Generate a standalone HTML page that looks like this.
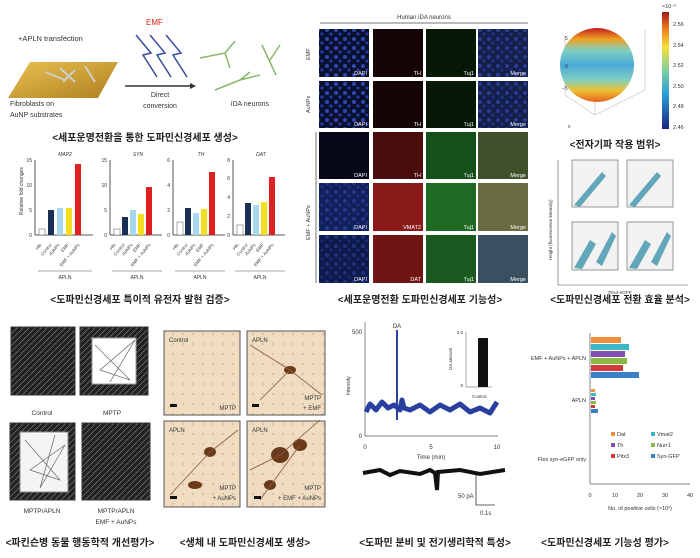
<!DOCTYPE html>
<html><head><meta charset="utf-8"><style>
body{margin:0;background:#fff;width:700px;height:558px;overflow:hidden}
svg{display:block}
text{font-family:"Liberation Sans","Noto Sans CJK KR",sans-serif}
.k{font-family:"Liberation Sans","Noto Sans CJK KR",sans-serif;font-size:10px;font-weight:bold;fill:#222}
</style></head><body>
<svg width="700" height="558" viewBox="0 0 700 558">
<defs>
<linearGradient id="sph" x1="0" y1="0" x2="0" y2="1"><stop offset="0" stop-color="#c02020"/><stop offset="0.15" stop-color="#f0a020"/><stop offset="0.3" stop-color="#7fd0c0"/><stop offset="0.5" stop-color="#4aa8d8"/><stop offset="0.7" stop-color="#7fd0c0"/><stop offset="0.85" stop-color="#f0c030"/><stop offset="1" stop-color="#e06020"/></linearGradient>
<linearGradient id="cb" x1="0" y1="1" x2="0" y2="0"><stop offset="0" stop-color="#1a237e"/><stop offset="0.3" stop-color="#2aa0d8"/><stop offset="0.5" stop-color="#7fd0a0"/><stop offset="0.7" stop-color="#f5e03a"/><stop offset="0.85" stop-color="#f08020"/><stop offset="1" stop-color="#a01818"/></linearGradient>
<linearGradient id="gold" x1="0" y1="0" x2="1" y2="1"><stop offset="0" stop-color="#e8c050"/><stop offset="1" stop-color="#b08020"/></linearGradient>
<pattern id="blk" width="6" height="6" patternUnits="userSpaceOnUse"><rect width="6" height="6" fill="#222"/><path d="M0 3L3 0M3 6L6 3" stroke="#888" stroke-width="0.6"/></pattern>
<pattern id="beige" width="10" height="10" patternUnits="userSpaceOnUse"><rect width="10" height="10" fill="#f0dcc0"/><circle cx="3" cy="4" r="1" fill="#d8b890"/></pattern>
<pattern id="dapi" width="9" height="9" patternUnits="userSpaceOnUse"><circle cx="3" cy="3" r="2" fill="#3048b0"/><circle cx="7" cy="7" r="1.6" fill="#2838a0"/></pattern>
</defs>

<text x="18" y="41" font-size="7.5" fill="#333">+APLN transfection</text>
<polygon points="30,62 118,62 98,98 8,98" fill="url(#gold)"/>
<path d="M45 72l20 8M60 68l15 14M75 70l-12 12M85 66l10 16" stroke="#ccc" stroke-width="2"/>
<text x="10" y="106" font-size="7" fill="#333">Fibroblasts on</text>
<text x="10" y="117" font-size="7" fill="#333">AuNP substrates</text>
<text x="146" y="25" font-size="8" fill="#e02020">EMF</text>
<g stroke="#3a4a9a" stroke-width="1.5" fill="none"><path d="M136 35l15 18-8 2 14 22M150 35l15 18-8 2 14 22M166 35l15 18-8 2 14 22"/></g>
<line x1="125" y1="86" x2="190" y2="86" stroke="#333" stroke-width="1.5"/><polygon points="190,83 196,86 190,89" fill="#333"/>
<text x="160" y="97" font-size="7" text-anchor="middle" fill="#333">Direct</text>
<text x="160" y="108" font-size="7" text-anchor="middle" fill="#333">conversion</text>
<g stroke="#8ab868" stroke-width="1.5" fill="none"><path d="M200 58l25-5 10-12M225 53l5 15M262 45l14 30M270 60l10-15M215 90l25-10 20-5M240 80l10-8"/></g>
<text x="250" y="106" font-size="7" text-anchor="middle" fill="#333">iDA neurons</text>
<text x="145" y="141" class="k" text-anchor="middle">&lt;세포운명전환을 통한 도파민신경세포 생성&gt;</text>

<g font-size="5" fill="#333">
<text x="23" y="215" transform="rotate(-90 23 215)">Relative fold changes</text>
<g transform="translate(35,0)"><line x1="0" y1="160" x2="0" y2="235" stroke="#555"/><line x1="0" y1="235" x2="58" y2="235" stroke="#555"/>
<text x="30" y="156" text-anchor="middle" font-style="italic">MAP2</text>
<rect x="4" y="229" width="6" height="6" fill="#fff" stroke="#555" stroke-width=".5"/><rect x="13" y="210" width="6" height="25" fill="#1a2f55"/><rect x="22" y="208" width="6" height="27" fill="#a8d8ee"/><rect x="31" y="208" width="6" height="27" fill="#f2e020"/><rect x="40" y="164" width="6" height="71" fill="#e02020"/>
<text x="-3" y="237" text-anchor="end">0</text><text x="-3" y="212" text-anchor="end">5</text><text x="-3" y="187" text-anchor="end">10</text><text x="-3" y="162" text-anchor="end">15</text></g>
<g transform="translate(110,0)"><line x1="0" y1="160" x2="0" y2="235" stroke="#555"/><line x1="0" y1="235" x2="52" y2="235" stroke="#555"/>
<text x="28" y="156" text-anchor="middle" font-style="italic">SYN</text>
<rect x="4" y="229" width="6" height="6" fill="#fff" stroke="#555" stroke-width=".5"/><rect x="12" y="217" width="6" height="18" fill="#1a2f55"/><rect x="20" y="210" width="6" height="25" fill="#a8d8ee"/><rect x="28" y="214" width="6" height="21" fill="#f2e020"/><rect x="36" y="187" width="6" height="48" fill="#e02020"/>
<text x="-3" y="237" text-anchor="end">0</text><text x="-3" y="212" text-anchor="end">5</text><text x="-3" y="187" text-anchor="end">10</text><text x="-3" y="162" text-anchor="end">15</text></g>
<g transform="translate(173,0)"><line x1="0" y1="160" x2="0" y2="235" stroke="#555"/><line x1="0" y1="235" x2="52" y2="235" stroke="#555"/>
<text x="28" y="156" text-anchor="middle" font-style="italic">TH</text>
<rect x="4" y="222" width="6" height="13" fill="#fff" stroke="#555" stroke-width=".5"/><rect x="12" y="208" width="6" height="27" fill="#1a2f55"/><rect x="20" y="213" width="6" height="22" fill="#a8d8ee"/><rect x="28" y="209" width="6" height="26" fill="#f2e020"/><rect x="36" y="172" width="6" height="63" fill="#e02020"/>
<text x="-3" y="237" text-anchor="end">0</text><text x="-3" y="212" text-anchor="end">2</text><text x="-3" y="187" text-anchor="end">4</text><text x="-3" y="162" text-anchor="end">6</text></g>
<g transform="translate(233,0)"><line x1="0" y1="160" x2="0" y2="235" stroke="#555"/><line x1="0" y1="235" x2="52" y2="235" stroke="#555"/>
<text x="28" y="156" text-anchor="middle" font-style="italic">DAT</text>
<rect x="4" y="225" width="6" height="10" fill="#fff" stroke="#555" stroke-width=".5"/><rect x="12" y="203" width="6" height="32" fill="#1a2f55"/><rect x="20" y="205" width="6" height="30" fill="#a8d8ee"/><rect x="28" y="202" width="6" height="33" fill="#f2e020"/><rect x="36" y="177" width="6" height="58" fill="#e02020"/>
<text x="-3" y="237" text-anchor="end">0</text><text x="-3" y="218" text-anchor="end">2</text><text x="-3" y="199" text-anchor="end">4</text><text x="-3" y="180" text-anchor="end">6</text><text x="-3" y="162" text-anchor="end">8</text></g>
<g font-size="4.5" fill="#444">
<text transform="translate(42,245) rotate(-50)" text-anchor="end">Hfs</text><text transform="translate(52,245) rotate(-50)" text-anchor="end">Control</text><text transform="translate(60,245) rotate(-50)" text-anchor="end">AuNPs</text><text transform="translate(69,245) rotate(-50)" text-anchor="end">EMF</text><text transform="translate(80,245) rotate(-50)" text-anchor="end">EMF + AuNPs</text>
<text transform="translate(116,245) rotate(-50)" text-anchor="end">Hfs</text><text transform="translate(125,245) rotate(-50)" text-anchor="end">Control</text><text transform="translate(133,245) rotate(-50)" text-anchor="end">AuNPs</text><text transform="translate(141,245) rotate(-50)" text-anchor="end">EMF</text><text transform="translate(151,245) rotate(-50)" text-anchor="end">EMF + AuNPs</text>
<text transform="translate(179,245) rotate(-50)" text-anchor="end">Hfs</text><text transform="translate(188,245) rotate(-50)" text-anchor="end">Control</text><text transform="translate(196,245) rotate(-50)" text-anchor="end">AuNPs</text><text transform="translate(204,245) rotate(-50)" text-anchor="end">EMF</text><text transform="translate(214,245) rotate(-50)" text-anchor="end">EMF + AuNPs</text>
<text transform="translate(239,245) rotate(-50)" text-anchor="end">Hfs</text><text transform="translate(248,245) rotate(-50)" text-anchor="end">Control</text><text transform="translate(256,245) rotate(-50)" text-anchor="end">AuNPs</text><text transform="translate(264,245) rotate(-50)" text-anchor="end">EMF</text><text transform="translate(274,245) rotate(-50)" text-anchor="end">EMF + AuNPs</text>
</g>
<g stroke="#555" stroke-width=".6"><line x1="38" y1="271" x2="92" y2="271"/><line x1="112" y1="271" x2="162" y2="271"/><line x1="175" y1="271" x2="225" y2="271"/><line x1="235" y1="271" x2="285" y2="271"/></g>
<text x="65" y="279" text-anchor="middle">APLN</text><text x="137" y="279" text-anchor="middle">APLN</text><text x="200" y="279" text-anchor="middle">APLN</text><text x="260" y="279" text-anchor="middle">APLN</text>
</g>
<text x="140" y="303" class="k" text-anchor="middle">&lt;도파민신경세포 특이적 유전자 발현 검증&gt;</text>

<text x="424" y="19" font-size="6" text-anchor="middle" fill="#333">Human iDA neurons</text>
<line x1="320" y1="23" x2="528" y2="23" stroke="#777"/>
<line x1="316" y1="132" x2="316" y2="283" stroke="#777"/>
<g font-size="5.5" fill="#333"><text x="310" y="60" transform="rotate(-90 310 60)">EMF</text><text x="310" y="113" transform="rotate(-90 310 113)">AuNPs</text><text x="310" y="240" transform="rotate(-90 310 240)">EMF + AuNPs</text></g>
<g>
<rect x="319" y="29" width="50" height="48" fill="#0a1030"/><rect x="319" y="29" width="50" height="48" fill="url(#dapi)"/><rect x="373" y="29" width="50" height="48" fill="#150505"/><rect x="426" y="29" width="50" height="48" fill="#061806"/><rect x="478" y="29" width="50" height="48" fill="#14204a"/><rect x="478" y="29" width="50" height="48" fill="url(#dapi)" opacity=".7"/>
<rect x="319" y="81" width="50" height="47" fill="#0a1030"/><rect x="319" y="81" width="50" height="47" fill="url(#dapi)"/><rect x="373" y="81" width="50" height="47" fill="#150505"/><rect x="426" y="81" width="50" height="47" fill="#061806"/><rect x="478" y="81" width="50" height="47" fill="#14204a"/><rect x="478" y="81" width="50" height="47" fill="url(#dapi)" opacity=".7"/>
<rect x="319" y="132" width="50" height="47" fill="#060818"/><rect x="373" y="132" width="50" height="47" fill="#4a0c0c"/><rect x="426" y="132" width="50" height="47" fill="#14501a"/><rect x="478" y="132" width="50" height="47" fill="#40502a"/>
<rect x="319" y="183" width="50" height="48" fill="#12205a"/><rect x="319" y="183" width="50" height="48" fill="url(#dapi)" opacity=".6"/><rect x="373" y="183" width="50" height="48" fill="#8a1a1a"/><rect x="426" y="183" width="50" height="48" fill="#1e6a22"/><rect x="478" y="183" width="50" height="48" fill="#6a6a40"/>
<rect x="319" y="235" width="50" height="48" fill="#0e1a4a"/><rect x="319" y="235" width="50" height="48" fill="url(#dapi)" opacity=".5"/><rect x="373" y="235" width="50" height="48" fill="#701414"/><rect x="426" y="235" width="50" height="48" fill="#1a5a20"/><rect x="478" y="235" width="50" height="48" fill="#3a5060"/>
</g>
<g font-size="5.5" fill="#fff" text-anchor="end">
<text x="367" y="75">DAPI</text><text x="421" y="75">TH</text><text x="474" y="75">Tuj1</text><text x="526" y="75">Merge</text>
<text x="367" y="126">DAPI</text><text x="421" y="126">TH</text><text x="474" y="126">Tuj1</text><text x="526" y="126">Merge</text>
<text x="367" y="177">DAPI</text><text x="421" y="177">TH</text><text x="474" y="177">Tuj1</text><text x="526" y="177">Merge</text>
<text x="367" y="229">DAPI</text><text x="421" y="229">VMAT2</text><text x="474" y="229">Tuj1</text><text x="526" y="229">Merge</text>
<text x="367" y="281">DAPI</text><text x="421" y="281">DAT</text><text x="474" y="281">Tuj1</text><text x="526" y="281">Merge</text>
</g>
<text x="420" y="303" class="k" text-anchor="middle">&lt;세포운명전환 도파민신경세포 기능성&gt;</text>

<g stroke="#aaa" stroke-width=".5" fill="none"><path d="M565 35L565 95L595 115L645 90L645 30M595 115L595 55"/></g>
<circle cx="597" cy="65" r="37" fill="url(#sph)"/>
<g font-size="5" fill="#333"><text x="565" y="40">5</text><text x="565" y="68">0</text><text x="562" y="90">−5</text><text x="568" y="128">x</text></g>
<rect x="662" y="12" width="7" height="117" fill="url(#cb)"/>
<g font-size="5.5" fill="#333"><text x="673" y="26">2.56</text><text x="673" y="47">2.54</text><text x="673" y="67">2.52</text><text x="673" y="88">2.50</text><text x="673" y="108">2.48</text><text x="673" y="129">2.46</text><text x="662" y="8">×10⁻⁵</text></g>
<text x="615" y="148" class="k" text-anchor="middle">&lt;전자기파 작용 범위&gt;</text>

<line x1="558" y1="160" x2="558" y2="285" stroke="#555" stroke-width=".6"/><line x1="558" y1="285" x2="688" y2="285" stroke="#555" stroke-width=".6"/>
<text x="552" y="260" font-size="4.5" fill="#333" transform="rotate(-90 552 260)">Height (fluorescence intensity)</text>
<text x="620" y="294" font-size="4.5" fill="#333" text-anchor="middle">Pitx3-eGFP</text>
<g stroke="#555" stroke-width=".6" fill="#f2f2f2">
<rect x="572" y="160" width="46" height="47"/><rect x="627" y="160" width="46" height="47"/><rect x="572" y="222" width="46" height="48"/><rect x="627" y="222" width="46" height="48"/></g>
<g fill="#4a9ab0" opacity=".85"><polygon points="574,205 602,172 606,176 580,207"/><polygon points="629,205 657,172 661,176 635,207"/><polygon points="574,268 590,240 596,244 582,269"/><polygon points="596,262 612,232 616,236 602,266"/><polygon points="629,268 645,240 651,244 637,269"/><polygon points="651,262 667,232 671,236 657,266"/></g>
<text x="620" y="303" class="k" text-anchor="middle">&lt;도파민신경세포 전환 효율 분석&gt;</text>

<g stroke="#333" stroke-width="1">
<rect x="11" y="327" width="64" height="68" fill="url(#blk)"/>
<rect x="80" y="327" width="68" height="68" fill="url(#blk)"/><rect x="92" y="338" width="44" height="46" fill="#fff" stroke="#999"/>
<rect x="10" y="423" width="65" height="77" fill="url(#blk)"/><rect x="20" y="432" width="48" height="60" fill="#f4f4f4" stroke="#888"/>
<rect x="82" y="423" width="68" height="77" fill="url(#blk)"/></g>
<g stroke="#666" stroke-width=".7" fill="none"><path d="M95 345L130 380L100 370L135 340L110 382M25 440L60 480L30 470L65 445L40 488L55 435"/></g>
<g font-size="6.5" fill="#333" text-anchor="middle"><text x="42" y="415">Control</text><text x="112" y="415">MPTP</text><text x="42" y="513">MPTP/APLN</text><text x="116" y="513">MPTP/APLN</text><text x="116" y="524">EMF + AuNPs</text></g>
<text x="80" y="546" class="k" text-anchor="middle">&lt;파킨슨병 동물 행동학적 개선평가&gt;</text>

<g stroke="#555" stroke-width="1">
<rect x="164" y="331" width="76" height="84" fill="url(#beige)"/><rect x="247" y="331" width="78" height="84" fill="url(#beige)"/>
<rect x="164" y="421" width="76" height="86" fill="url(#beige)"/><rect x="247" y="421" width="78" height="86" fill="url(#beige)"/></g>
<g fill="#6a3a1a"><ellipse cx="290" cy="370" rx="6" ry="4"/><ellipse cx="210" cy="452" rx="6" ry="5"/><ellipse cx="195" cy="485" rx="7" ry="4"/><ellipse cx="280" cy="455" rx="9" ry="8"/><ellipse cx="300" cy="445" rx="7" ry="6"/><ellipse cx="270" cy="485" rx="6" ry="5"/></g>
<g stroke="#8a5a3a" stroke-width=".8" fill="none"><path d="M250 345L290 370L322 395M260 400L290 370M170 495L210 452L238 430M250 470L280 455L320 420M260 500L300 445"/></g>
<g font-size="6" fill="#333"><text x="169" y="342">Control</text><text x="252" y="342">APLN</text><text x="169" y="432">APLN</text><text x="252" y="432">APLN</text>
<text x="236" y="410" text-anchor="end">MPTP</text><text x="321" y="400" text-anchor="end">MPTP</text><text x="321" y="410" text-anchor="end">+ EMF</text><text x="236" y="490" text-anchor="end">MPTP</text><text x="236" y="500" text-anchor="end">+ AuNPs</text><text x="321" y="490" text-anchor="end">MPTP</text><text x="321" y="500" text-anchor="end">+ EMF + AuNPs</text></g>
<g fill="#111"><rect x="170" y="404" width="7" height="3"/><rect x="252" y="404" width="7" height="3"/><rect x="170" y="496" width="7" height="3"/><rect x="254" y="496" width="7" height="3"/></g>
<text x="245" y="546" class="k" text-anchor="middle">&lt;생체 내 도파민신경세포 생성&gt;</text>

<line x1="365" y1="322" x2="365" y2="436" stroke="#555" stroke-width=".7"/><line x1="365" y1="436" x2="498" y2="436" stroke="#555" stroke-width=".7"/>
<path d="M366 412L370 404L376 410L382 402L388 408L394 405L400 410L402 400L404 408L410 410L420 405L430 412L440 405L450 410L460 404L470 412L480 408L490 413L497 402" stroke="#2a40a0" stroke-width="5" fill="none" stroke-linejoin="round"/>
<line x1="397" y1="330" x2="397" y2="420" stroke="#2a40a0" stroke-width="2"/>
<g font-size="6" fill="#333"><text x="397" y="328" text-anchor="middle">DA</text><text x="362" y="334" text-anchor="end">500</text><text x="362" y="438" text-anchor="end">0</text>
<text x="365" y="449" text-anchor="middle">0</text><text x="431" y="449" text-anchor="middle">5</text><text x="497" y="449" text-anchor="middle">10</text><text x="431" y="459" text-anchor="middle">Time (min)</text>
<text x="350" y="395" transform="rotate(-90 350 395)" font-size="5">Intensity</text></g>
<line x1="466" y1="332" x2="466" y2="387" stroke="#555" stroke-width=".5"/><line x1="466" y1="387" x2="492" y2="387" stroke="#555" stroke-width=".5"/>
<rect x="478" y="338" width="10" height="49" fill="#111"/>
<g font-size="4.5" fill="#333"><text x="463" y="334" text-anchor="end">2.0</text><text x="463" y="387" text-anchor="end">0</text><text x="472" y="398">Control</text><text x="452" y="370" transform="rotate(-90 452 370)">DA amount</text></g>
<path d="M363 473L380 470L390 475L400 471L420 474L430 470L435 473L437 490L438 472L460 470L480 474L505 470" stroke="#111" stroke-width="4" fill="none"/>
<path d="M476 475V505H495" stroke="#333" stroke-width=".8" fill="none"/>
<g font-size="6" fill="#333"><text x="458" y="498">50 pA</text><text x="480" y="515">0.1s</text></g>
<text x="435" y="546" class="k" text-anchor="middle">&lt;도파민 분비 및 전기생리학적 특성&gt;</text>

<line x1="590" y1="333" x2="590" y2="484" stroke="#555" stroke-width=".7"/><line x1="590" y1="484" x2="690" y2="484" stroke="#555" stroke-width=".7"/>
<g><rect x="591" y="337" width="30" height="6" fill="#f0903a"/><rect x="591" y="344" width="38" height="6" fill="#3ab8c8"/><rect x="591" y="351" width="34" height="6" fill="#8050b0"/><rect x="591" y="358" width="36" height="6" fill="#8ab840"/><rect x="591" y="365" width="32" height="6" fill="#d03a3a"/><rect x="591" y="372" width="48" height="6" fill="#3a80c8"/>
<rect x="591" y="389" width="4" height="3" fill="#f0903a"/><rect x="591" y="393" width="5" height="3" fill="#3ab8c8"/><rect x="591" y="397" width="4" height="3" fill="#8050b0"/><rect x="591" y="401" width="5" height="3" fill="#8ab840"/><rect x="591" y="405" width="4" height="3" fill="#d03a3a"/><rect x="591" y="409" width="7" height="4" fill="#3a80c8"/></g>
<g font-size="5.5" fill="#333"><text x="586" y="360" text-anchor="end">EMF + AuNPs + APLN</text><text x="586" y="402" text-anchor="end">APLN</text><text x="586" y="461" text-anchor="end">Flex syn-eGFP only</text>
<text x="590" y="497" text-anchor="middle">0</text><text x="615" y="497" text-anchor="middle">10</text><text x="640" y="497" text-anchor="middle">20</text><text x="665" y="497" text-anchor="middle">30</text><text x="690" y="497" text-anchor="middle">40</text>
<text x="640" y="510" text-anchor="middle">No. of positive cells (×10²)</text>
<rect x="611" y="432" width="4" height="4" fill="#f0903a"/><text x="617" y="436">Dat</text><rect x="651" y="432" width="4" height="4" fill="#3ab8c8"/><text x="657" y="436">Vmat2</text>
<rect x="611" y="443" width="4" height="4" fill="#8050b0"/><text x="617" y="447">Th</text><rect x="651" y="443" width="4" height="4" fill="#8ab840"/><text x="657" y="447">Nurr1</text>
<rect x="611" y="454" width="4" height="4" fill="#d03a3a"/><text x="617" y="458">Pitx3</text><rect x="651" y="454" width="4" height="4" fill="#3a80c8"/><text x="657" y="458">Syn-GFP</text></g>
<text x="605" y="546" class="k" text-anchor="middle">&lt;도파민신경세포 기능성 평가&gt;</text>
</svg>
</body></html>
